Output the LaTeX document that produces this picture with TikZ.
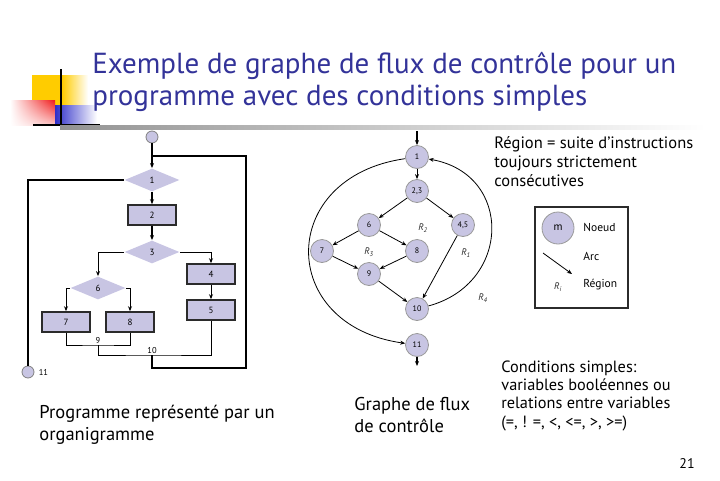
\documentclass[tikz,border=0pt]{standalone}
\usepackage{fontspec}
\setmainfont{PT Sans}
\usetikzlibrary{arrows.meta, positioning, shapes.geometric, calc, shadings}
\definecolor{ctitle}{HTML}{333399}
\definecolor{clav}{HTML}{C8C5E3}
\definecolor{cdark}{HTML}{2B2B2B}
\definecolor{cyell}{HTML}{FFCC00}
\definecolor{cred}{HTML}{F01818}
\definecolor{cblue}{HTML}{2E2EC8}
\newcommand{\reg}[1]{\textit{R}\textsubscript{\textit{#1}}}
\tikzset{
  every picture/.style={x=1pt, y=-1pt, line width=0.8pt},
  fcbox/.style={draw=cdark, fill=clav, line width=1.6pt, minimum width=48pt, minimum height=20pt, inner sep=0pt, font=\fontsize{9}{9}\selectfont},
  fcdec/.style={diamond, fill=clav, minimum width=55pt, minimum height=23pt, aspect=2.4, inner sep=0pt, font=\fontsize{9}{9}\selectfont},
  term/.style={circle, fill=clav, draw=gray, minimum size=12pt, inner sep=0pt},
  gnode/.style={circle, fill=clav, draw=gray!80, minimum size=23pt, inner sep=0pt, font=\fontsize{8}{8}\selectfont},
  flow/.style={line width=1.8pt},
  arrow/.style={-{Stealth[length=5pt, width=4pt]}},
  region/.style={font=\fontsize{9.5}{9.5}\selectfont, text=cdark},
  note/.style={font=\fontsize{16.5}{19}\selectfont, align=left, anchor=base west, inner sep=0pt},
  small/.style={font=\fontsize{8.5}{8.5}\selectfont, inner sep=1pt},
  legtext/.style={font=\fontsize{11.5}{11.5}\selectfont, anchor=west, inner sep=1pt},
}
\begin{document}
\begin{tikzpicture}
  \useasboundingbox (0,0) rectangle (720,480);
  % ---- logo and title ----
  \fill[cyell] (32,75) rectangle (62,107);
  \shade[left color=cyell, right color=white] (62,75) rectangle (88,107);
  \shade[upper right=cred, upper left=white, lower right=cred!25, lower left=white] (10,100) rectangle (55,125);
  \shade[left color=cblue, right color=white] (55,105) rectangle (97,125);
  \draw[line width=2pt] (61,69) -- (61,127);
  \draw[line width=2pt] (33,125) -- (100,125);
  \shade[left color=gray!85, right color=white] (60,125) rectangle (705,129);
  % (base = last line)
  \node[font=\fontsize{29}{32}\selectfont, text=ctitle, align=left, anchor=base west, inner sep=0pt] (ttl) at (92,105)
    {Exemple de graphe de flux de contrôle pour un\\programme avec des conditions simples};
  % ---- organigramme ----
  \node[term] (start) at (152,137) {};
  \node[fcdec] (d1) at (152,180) {1};
  \node[fcbox] (b2) at (152,215) {2};
  \node[fcdec] (d3) at (152,252) {3};
  \node[fcbox] (b4) at (211,274) {4};
  \node[fcbox] (b5) at (211,310) {5};
  \node[fcdec] (d6) at (98,288) {6};
  \node[fcbox] (b7) at (66,322) {7};
  \node[fcbox] (b8) at (130,322) {8};
  \node[term] (stop) at (28,372) {};
  \node[small, anchor=west] (l11) at ([xshift=3pt]stop.east) {11};
  \coordinate (j9) at (98,345);
  \coordinate (j10) at (152,355);
  \coordinate (lb) at (246,368);
  \coordinate (join) at (152,156);
  \draw[flow, arrow] (start) -- (d1);
  \draw[flow, arrow] (d1) -- (b2);
  \draw[flow, arrow] (b2) -- (d3);
  \draw[flow] (d1.west) -| (stop);
  \draw[arrow] (d3.west) -| (d6.north);
  \draw[arrow] (d3.east) -| (b4.north);
  \draw[arrow] (b4) -- (b5);
  \draw[arrow] (d6.west) -| (b7.north);
  \draw[arrow] (d6.east) -| (b8.north);
  \draw (b7.south) |- (j9) -| (b8.south);
  \draw (j9) |- (j10) -| (b5.south);
  \draw[flow] (j10) |- (lb) |- (join);
  \node[small, anchor=south] (l9) at (j9) {9};
  \node[small, anchor=south] (l10) at (j10) {10};
  % ---- graphe de flux ----
  \node[gnode] (g1) at (417,157) {1};
  \node[gnode] (g23) at (417,191) {2,3};
  \node[gnode] (g6) at (369,225) {6};
  \node[gnode] (g45) at (463,225) {4,5};
  \node[gnode] (g7) at (322,251) {7};
  \node[gnode] (g8) at (417,251) {8};
  \node[gnode] (g9) at (369,274) {9};
  \node[gnode] (g10) at (417,309) {10};
  \node[gnode] (g11) at (417,345) {11};
  \coordinate (gin) at (417,131);
  \coordinate (gout) at (417,366);
  \draw[flow, arrow] (gin) -- (g1);
  \draw[flow, arrow] (g11) -- (gout);
  \draw[arrow] (g1) -- (g23);
  \draw[arrow] (g23) -- (g6);
  \draw[arrow] (g23) -- (g45);
  \draw[arrow] (g6) -- (g7);
  \draw[arrow] (g6) -- (g8);
  \draw[arrow] (g7) -- (g9);
  \draw[arrow] (g8) -- (g9);
  \draw[arrow] (g9) -- (g10);
  \draw[arrow] (g45) -- (g10);
  \draw[arrow] (g1) to[out=188, in=172, looseness=1.8] (g11);
  \draw[arrow] (g10) to[out=15, in=-10, looseness=1.5] (g1);
  \node[region] (r2) at (423,228) {\reg{2}};
  \node[region] (r3) at (369,252) {\reg{3}};
  \node[region] (r1) at (466,253) {\reg{1}};
  \node[region] (r4) at (483,298) {\reg{4}};
  % ---- legende ----
  \node[draw=cdark, line width=1.4pt, minimum width=93pt, minimum height=101pt] (leg) at (581.5,257.5) {};
  \node[gnode, minimum size=32pt, font=\fontsize{11}{11}\selectfont] (lm) at (558,228) {m};
  \coordinate (la1) at (543,253);
  \coordinate (la2) at (572,274);
  \draw[arrow] (la1) -- (la2);
  \node[legtext] (lnoeud) at (582,227) {Noeud};
  \node[legtext] (larc) at (582,256) {Arc};
  \node[legtext] (lreg) at (582,285) {Région};
  \node[region] (ri) at (558,287) {\reg{i}};
  % ---- textes ----
  \node[note] (treg) at (494,186) {Région = suite d’instructions\\toujours strictement\\consécutives};
  \node[note, font=\fontsize{16.3}{18.3}\selectfont] (tcond) at (501,427) {Conditions simples:\\variables booléennes ou\\relations entre variables\\(=, ! =, <, <=, >, >=)};
  \node[note, font=\fontsize{18.5}{22}\selectfont] (tprog) at (39,440) {Programme représenté par un\\organigramme};
  \node[note, font=\fontsize{18.5}{22}\selectfont] (tgraphe) at (354,432) {Graphe de flux\\de contrôle};
  \node[note, font=\fontsize{14}{14}\selectfont] (page) at (679,468) {21};
\end{tikzpicture}
\end{document}
